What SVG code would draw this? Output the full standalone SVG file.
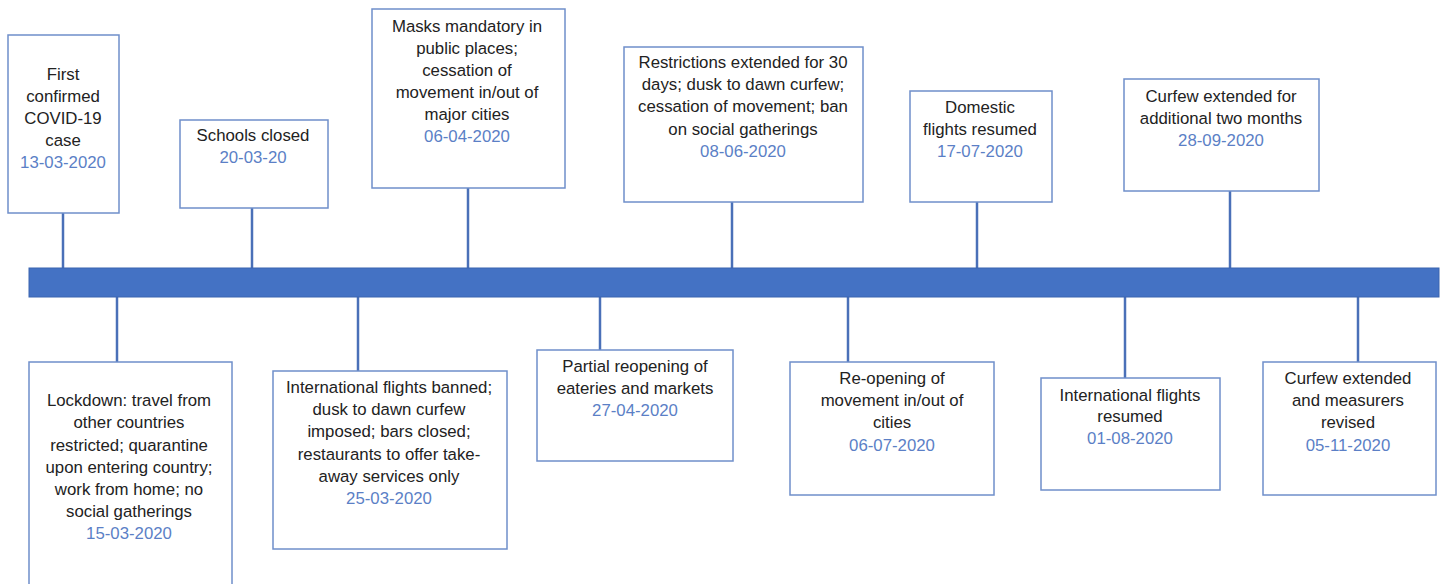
<svg xmlns="http://www.w3.org/2000/svg" width="1444" height="584" viewBox="0 0 1444 584">
<style>
.box{fill:#ffffff;stroke:#6f8fca;stroke-width:1.5}
.con line{stroke:#4a70b8;stroke-width:2.5}
text{font-family:"Liberation Sans",Arial,sans-serif;font-size:16.8px;text-anchor:middle}
.t{fill:#222222}
.d{fill:#5b7fc6}
</style>
<rect width="1444" height="584" fill="#ffffff"/>
<g id="connectors" class="con">
<line x1="63" y1="213" x2="63" y2="268"/>
<line x1="252" y1="208" x2="252" y2="268"/>
<line x1="468" y1="188" x2="468" y2="268"/>
<line x1="732" y1="202" x2="732" y2="268"/>
<line x1="977" y1="202" x2="977" y2="268"/>
<line x1="1230" y1="191" x2="1230" y2="268"/>
<line x1="117" y1="297" x2="117" y2="362"/>
<line x1="358" y1="297" x2="358" y2="371"/>
<line x1="600" y1="297" x2="600" y2="350"/>
<line x1="848" y1="297" x2="848" y2="362"/>
<line x1="1125" y1="297" x2="1125" y2="378"/>
<line x1="1358" y1="297" x2="1358" y2="362"/>
</g>
<g id="timeline"><rect x="29" y="268" width="1410" height="29" fill="#4472c4" stroke="#3a64b0" stroke-width="1"/></g>
<g id="n1"><rect class="box" x="8" y="35" width="111" height="178"/>
<text><tspan class="t" x="63" y="80">First</tspan><tspan class="t" x="63" y="102">confirmed</tspan><tspan class="t" x="63" y="124">COVID-19</tspan><tspan class="t" x="63" y="146">case</tspan><tspan class="d" x="63" y="168">13-03-2020</tspan></text></g>
<g id="n2"><rect class="box" x="180" y="120" width="148" height="88"/>
<text><tspan class="t" x="253" y="141">Schools closed</tspan><tspan class="d" x="253" y="163">20-03-20</tspan></text></g>
<g id="n3"><rect class="box" x="372" y="9" width="193" height="179"/>
<text><tspan class="t" x="467" y="32">Masks mandatory in</tspan><tspan class="t" x="467" y="54">public places;</tspan><tspan class="t" x="467" y="76">cessation of</tspan><tspan class="t" x="467" y="98">movement in/out of</tspan><tspan class="t" x="467" y="120">major cities</tspan><tspan class="d" x="467" y="142">06-04-2020</tspan></text></g>
<g id="n4"><rect class="box" x="624" y="47" width="239" height="155"/>
<text><tspan class="t" x="743" y="68">Restrictions extended for 30</tspan><tspan class="t" x="743" y="90">days; dusk to dawn curfew;</tspan><tspan class="t" x="743" y="112">cessation of movement; ban</tspan><tspan class="t" x="743" y="135">on social gatherings</tspan><tspan class="d" x="743" y="157">08-06-2020</tspan></text></g>
<g id="n5"><rect class="box" x="910" y="91" width="142" height="111"/>
<text><tspan class="t" x="980" y="113">Domestic</tspan><tspan class="t" x="980" y="135">flights resumed</tspan><tspan class="d" x="980" y="157">17-07-2020</tspan></text></g>
<g id="n6"><rect class="box" x="1124" y="79" width="195" height="112"/>
<text><tspan class="t" x="1221" y="102">Curfew extended for</tspan><tspan class="t" x="1221" y="124">additional two months</tspan><tspan class="d" x="1221" y="146">28-09-2020</tspan></text></g>
<g id="n7"><rect class="box" x="29" y="362" width="203" height="240"/>
<text><tspan class="t" x="129" y="406">Lockdown: travel from</tspan><tspan class="t" x="129" y="428">other countries</tspan><tspan class="t" x="129" y="451">restricted; quarantine</tspan><tspan class="t" x="129" y="473">upon entering country;</tspan><tspan class="t" x="129" y="495">work from home; no</tspan><tspan class="t" x="129" y="517">social gatherings</tspan><tspan class="d" x="129" y="539">15-03-2020</tspan></text></g>
<g id="n8"><rect class="box" x="273" y="371" width="234" height="178"/>
<text><tspan class="t" x="389" y="393">International flights banned;</tspan><tspan class="t" x="389" y="415">dusk to dawn curfew</tspan><tspan class="t" x="389" y="437">imposed; bars closed;</tspan><tspan class="t" x="389" y="460">restaurants to offer take-</tspan><tspan class="t" x="389" y="482">away services only</tspan><tspan class="d" x="389" y="504">25-03-2020</tspan></text></g>
<g id="n9"><rect class="box" x="537" y="350" width="196" height="111"/>
<text><tspan class="t" x="635" y="372">Partial reopening of</tspan><tspan class="t" x="635" y="394">eateries and markets</tspan><tspan class="d" x="635" y="416">27-04-2020</tspan></text></g>
<g id="n10"><rect class="box" x="790" y="362" width="204" height="133"/>
<text><tspan class="t" x="892" y="384">Re-opening of</tspan><tspan class="t" x="892" y="406">movement in/out of</tspan><tspan class="t" x="892" y="428">cities</tspan><tspan class="d" x="892" y="451">06-07-2020</tspan></text></g>
<g id="n11"><rect class="box" x="1041" y="378" width="179" height="112"/>
<text><tspan class="t" x="1130" y="401">International flights</tspan><tspan class="t" x="1130" y="422">resumed</tspan><tspan class="d" x="1130" y="444">01-08-2020</tspan></text></g>
<g id="n12"><rect class="box" x="1263" y="362" width="173" height="133"/>
<text><tspan class="t" x="1348" y="384">Curfew extended</tspan><tspan class="t" x="1348" y="406">and measurers</tspan><tspan class="t" x="1348" y="428">revised</tspan><tspan class="d" x="1348" y="451">05-11-2020</tspan></text></g>
</svg>
